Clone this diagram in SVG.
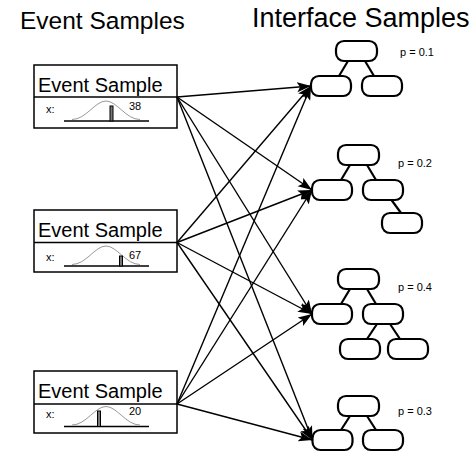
<svg xmlns="http://www.w3.org/2000/svg" width="475" height="453" viewBox="0 0 475 453">
<style>
  .title { font-family: "Liberation Sans", Arial, sans-serif; fill: #000; }
  .box { fill: #fff; stroke: #000; stroke-width: 1.5; }
  .lbl { font-family: "Liberation Sans", Arial, sans-serif; font-size: 20px; fill: #000; }
  .small { font-family: "Liberation Sans", Arial, sans-serif; font-size: 11px; fill: #000; }
  .base { stroke: #000; stroke-width: 1.5; fill: none; }
  .curve { stroke: #999; stroke-width: 1; fill: none; }
  .bar { fill: #777; stroke: #000; stroke-width: 1; }
  .tn { fill: #fff; stroke: #000; stroke-width: 2.2; }
  .te { stroke: #000; stroke-width: 2.2; fill: none; }
  .conn { stroke: #000; stroke-width: 1.4; fill: none; marker-end: url(#arr); }
</style>
<defs>
  <marker id="arr" markerUnits="userSpaceOnUse" markerWidth="16" markerHeight="12" refX="14" refY="5" orient="auto">
    <path d="M0,0 L14,5 L0,10 L3,5 z" fill="#000"/>
  </marker>
</defs>
<rect width="475" height="453" fill="#fff"/>
<text class="title" x="20" y="29" font-size="24.5">Event Samples</text>
<text class="title" x="252" y="27" font-size="27">Interface Samples</text>

<g id="event1">
  <rect class="box" x="34" y="65" width="143" height="63"/>
  <line class="base" x1="34" y1="97" x2="177" y2="97"/>
  <text class="lbl" x="38" y="92">Event Sample</text>
  <text class="small" x="46" y="113">x:</text>
  <line class="base" x1="64" y1="121" x2="149" y2="121"/>
  <path class="curve" d="M72,119.5 C86,119.5 95,101 106,101 C117,101 126,119.5 140,119.5"/>
  <rect class="bar" x="110" y="106" width="3" height="15"/>
  <text class="small" x="129" y="110">38</text>
</g>

<g id="event2">
  <rect class="box" x="34" y="210" width="143" height="62"/>
  <line class="base" x1="34" y1="242.5" x2="177" y2="242.5"/>
  <text class="lbl" x="38" y="237">Event Sample</text>
  <text class="small" x="46" y="261">x:</text>
  <line class="base" x1="64" y1="266" x2="149" y2="266"/>
  <path class="curve" d="M72,264.5 C86,264.5 95,246 106,246 C117,246 126,264.5 140,264.5"/>
  <rect class="bar" x="119.5" y="256" width="3" height="10"/>
  <text class="small" x="129" y="259">67</text>
</g>

<g id="event3">
  <rect class="box" x="34" y="371" width="143" height="62"/>
  <line class="base" x1="34" y1="404" x2="177" y2="404"/>
  <text class="lbl" x="38" y="398">Event Sample</text>
  <text class="small" x="46" y="418">x:</text>
  <line class="base" x1="64" y1="426.5" x2="149" y2="426.5"/>
  <path class="curve" d="M72,425 C86,425 95,406.5 106,406.5 C117,406.5 126,425 140,425"/>
  <rect class="bar" x="97.5" y="411" width="3" height="15.5"/>
  <text class="small" x="129" y="415">20</text>
</g>

<g id="tree1">
  <line class="te" x1="348" y1="61" x2="339" y2="76"/>
  <line class="te" x1="365" y1="61" x2="374" y2="76"/>
  <rect class="tn" x="336" y="41" width="41" height="20" rx="8"/>
  <rect class="tn" x="311" y="76" width="40" height="20" rx="8"/>
  <rect class="tn" x="362" y="76" width="40" height="20" rx="8"/>
  <text class="small" x="400" y="56" font-size="10.5">p = 0.1</text>
</g>

<g id="tree2">
  <line class="te" x1="350" y1="165" x2="341" y2="180"/>
  <line class="te" x1="367" y1="165" x2="376" y2="180"/>
  <line class="te" x1="391.5" y1="200" x2="401" y2="213"/>
  <rect class="tn" x="338" y="145" width="41" height="20" rx="8"/>
  <rect class="tn" x="312" y="180" width="40" height="20" rx="8"/>
  <rect class="tn" x="363" y="180" width="40" height="20" rx="8"/>
  <rect class="tn" x="382" y="213" width="40" height="20" rx="8"/>
  <text class="small" x="398" y="167" font-size="10.5">p = 0.2</text>
</g>

<g id="tree3">
  <line class="te" x1="350" y1="289" x2="341" y2="304"/>
  <line class="te" x1="367" y1="289" x2="376" y2="304"/>
  <line class="te" x1="377" y1="324" x2="367" y2="339"/>
  <line class="te" x1="390" y1="324" x2="400" y2="339"/>
  <rect class="tn" x="338" y="269" width="41" height="20" rx="8"/>
  <rect class="tn" x="312" y="304" width="40" height="20" rx="8"/>
  <rect class="tn" x="363" y="304" width="40" height="20" rx="8"/>
  <rect class="tn" x="340" y="339" width="40" height="20" rx="8"/>
  <rect class="tn" x="388" y="339" width="40" height="20" rx="8"/>
  <text class="small" x="398" y="291" font-size="10.5">p = 0.4</text>
</g>

<g id="tree4">
  <line class="te" x1="350" y1="416" x2="341" y2="430"/>
  <line class="te" x1="367" y1="416" x2="376" y2="430"/>
  <rect class="tn" x="338" y="396" width="41" height="20" rx="8"/>
  <rect class="tn" x="312.5" y="430" width="40" height="20" rx="8"/>
  <rect class="tn" x="363" y="430" width="40" height="20" rx="8"/>
  <text class="small" x="398" y="415" font-size="10.5">p = 0.3</text>
</g>

<g id="connectors">
  <line class="conn" x1="177" y1="97" x2="311" y2="86"/>
  <line class="conn" x1="177" y1="97" x2="312" y2="190"/>
  <line class="conn" x1="177" y1="97" x2="312" y2="314"/>
  <line class="conn" x1="177" y1="97" x2="312.5" y2="440"/>
  <line class="conn" x1="177" y1="242.5" x2="311" y2="86"/>
  <line class="conn" x1="177" y1="242.5" x2="312" y2="190"/>
  <line class="conn" x1="177" y1="242.5" x2="312" y2="314"/>
  <line class="conn" x1="177" y1="242.5" x2="312.5" y2="440"/>
  <line class="conn" x1="177" y1="404" x2="311" y2="86"/>
  <line class="conn" x1="177" y1="404" x2="312" y2="190"/>
  <line class="conn" x1="177" y1="404" x2="312" y2="314"/>
  <line class="conn" x1="177" y1="404" x2="312.5" y2="440"/>
</g>
</svg>
